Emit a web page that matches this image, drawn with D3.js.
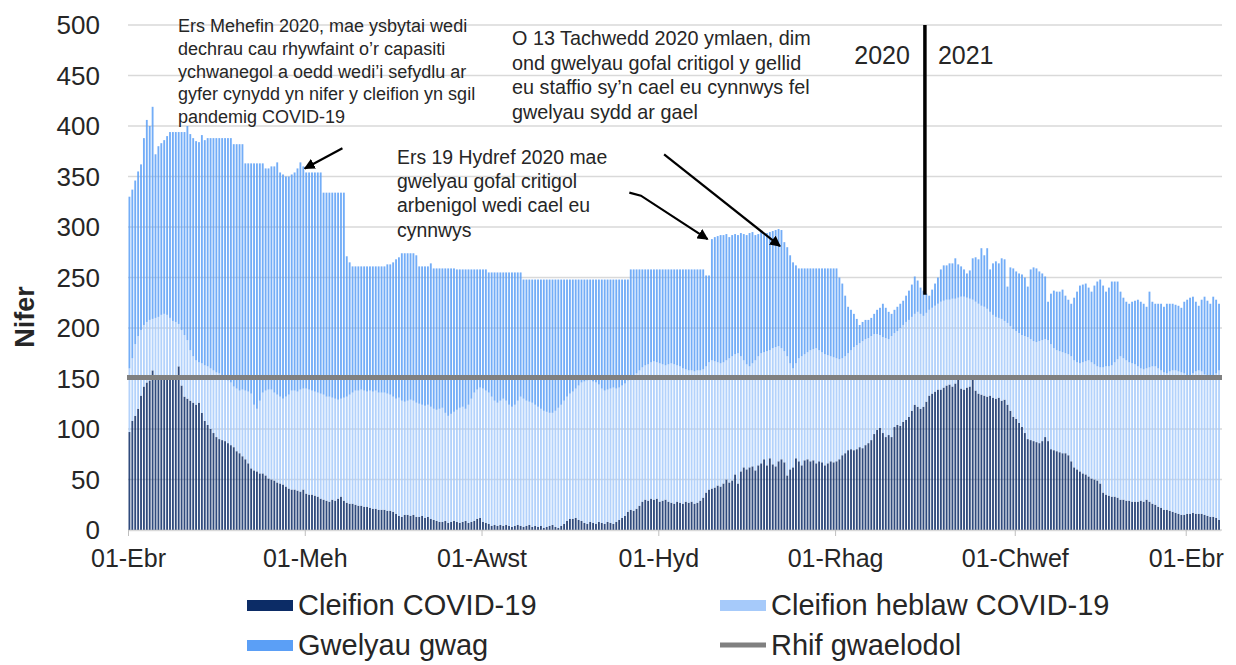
<!DOCTYPE html>
<html>
<head>
<meta charset="utf-8">
<script src="https://cdn.jsdelivr.net/npm/d3@7"></script>
<style>
  body { margin: 0; background: #fff; }
  text { font-family: "Liberation Sans", Arial, sans-serif; fill: #262626; }
</style>
</head>
<body>
<svg width="1236" height="665"></svg>
<script>
// Daily beds, 01 Apr 2020 - 12 Apr 2021.
const startDate = Date.UTC(2020, 3, 1);
const endDate = Date.UTC(2021, 3, 13);
const days = d3.utcDay.range(startDate, endDate);

// Cleifion COVID-19
const covid = [
  97,108,113,120,133,142,146,148,158,150, 150,150,151,150,150,150,152,162,143,132,
  130,128,126,124,126,116,108,104,100,96, 92,90,89,88,86,84,82,78,76,73,
  70,66,61,59,58,56,56,54,51,50, 49,47,46,45,43,41,40,40,39,38,
  40,36,35,35,34,33,31,30,29,28, 30,29,31,33,29,27,26,26,25,24,
  24,23,23,22,21,21,20,20,20,19, 19,18,16,14,13,15,15,14,15,13,
  13,14,12,13,11,10,9,8,8,9, 7,8,9,8,7,8,9,7,8,9,
  11,12,8,7,6,4,5,4,5,4, 5,4,3,4,5,4,3,4,5,3,
  4,3,4,2,3,4,5,3,2,4, 6,9,11,11,12,10,9,7,6,8,
  7,6,8,7,6,8,7,6,8,10, 12,14,18,20,19,21,24,28,30,29,
  31,30,31,28,29,30,28,27,26,28, 27,26,28,27,28,26,27,29,32,37,
  40,41,42,44,43,46,50,47,49,55, 46,58,62,60,62,63,59,64,66,70,
  64,71,65,63,68,70,67,54,60,62, 71,68,64,69,70,68,69,66,68,67,
  64,66,68,67,68,70,74,76,79,80, 79,80,82,81,84,86,89,95,99,101,
  96,92,94,92,102,104,103,107,109,112, 118,124,122,120,122,127,133,135,137,139,
  139,141,143,144,142,145,149,140,139,141, 142,149,138,135,134,133,132,133,131,130,
  131,128,129,124,118,112,110,106,102,96, 90,89,88,87,86,88,92,88,80,79,
  78,77,76,76,74,68,62,60,58,56, 55,53,51,50,49,46,37,35,34,33,
  33,32,30,30,29,29,28,28,28,29, 28,30,28,26,25,23,22,20,20,19,
  18,17,16,15,15,16,16,17,16,16, 16,15,14,13,13,12,10
];

// Cleifion heblaw COVID-19
const nonCovid = [
  63,62,71,72,65,61,60,60,51,60, 61,63,63,63,60,57,54,42,55,61,
  58,50,46,44,40,49,55,58,60,62, 64,65,63,62,62,62,60,62,62,66,
  68,71,74,65,62,72,80,84,88,89, 87,87,86,85,89,93,98,98,98,101,
  100,104,104,103,103,103,104,104,103,104, 101,101,98,97,102,105,108,110,113,114,
  115,115,114,116,116,117,116,116,116,116, 115,114,114,117,115,112,113,115,113,113,
  112,110,111,111,111,110,110,112,113,107, 106,107,108,111,114,114,111,117,122,127,
  128,129,132,131,130,128,123,122,123,126, 123,120,119,120,123,128,127,124,122,123,
  120,119,116,116,114,112,111,115,119,120, 122,123,124,126,128,133,137,140,142,141,
  140,140,136,133,132,131,133,135,132,131, 131,131,130,130,133,134,134,133,133,135,
  135,137,135,137,135,133,136,138,138,135, 135,134,131,131,130,131,131,129,127,125,
  126,127,125,122,122,120,118,123,123,119, 129,114,106,104,100,102,109,108,109,106,
  113,107,115,118,114,110,110,118,105,98, 94,102,108,105,106,110,110,114,110,109,
  110,107,104,104,102,99,96,96,96,98, 102,103,103,106,105,104,103,99,95,92,
  95,98,95,100,93,93,97,96,97,96, 93,90,94,94,90,88,85,85,85,85,
  87,86,85,84,87,84,81,91,92,89, 87,79,88,89,88,88,87,83,82,81,
  79,81,78,81,84,87,87,89,91,96, 101,100,99,99,101,100,97,100,104,101,
  100,100,100,99,100,104,106,106,107,110, 112,115,115,114,113,115,124,127,128,130,
  133,137,142,140,139,137,137,136,134,131, 131,130,133,136,137,137,136,136,135,138,
  140,141,141,141,140,137,136,138,141,142, 141,139,137,136,138,143,148
];

// Gwelyau gwag
const empty = [
  170,167,162,163,164,185,200,192,210,162, 169,170,172,177,184,187,188,190,196,201,
  212,214,216,217,218,226,223,226,228,230, 232,233,236,238,240,242,240,242,244,243,
  225,226,228,239,243,235,227,220,219,221, 224,230,222,222,218,216,214,216,221,225,
  220,214,215,216,217,218,219,200,202,202, 203,204,205,204,203,139,131,125,123,123,
  122,123,124,123,124,123,125,125,125,128, 129,133,138,139,146,147,146,145,146,146,
  136,137,138,137,142,139,140,139,138,143, 146,144,142,139,137,136,138,134,128,122,
  119,117,118,120,119,123,127,129,127,125, 127,131,133,131,127,123,118,120,121,122,
  124,126,128,130,131,132,132,130,127,124, 120,116,113,111,108,105,102,101,100,99,
  101,102,104,108,110,109,108,107,108,107, 105,103,100,108,106,103,100,97,95,94,
  92,91,92,93,94,95,94,93,94,95, 96,98,99,100,100,101,100,100,99,90,
  86,120,123,125,127,126,125,120,120,119, 117,122,125,128,132,130,124,121,120,117,
  117,117,116,116,116,117,108,108,107,105, 97,89,87,85,83,81,80,79,81,83,
  85,86,87,88,89,81,74,60,46,40, 33,26,18,19,19,18,18,20,24,27,
  33,30,27,22,23,24,24,24,26,29, 32,37,31,26,25,19,14,18,22,26,
  32,35,34,36,35,40,33,30,27,24, 28,41,44,44,57,51,60,42,51,55,
  54,60,61,36,58,60,59,59,60,58, 50,69,73,73,69,66,62,38,50,57,
  58,59,62,57,54,52,62,70,77,77, 77,72,70,78,84,87,81,74,78,83,
  80,77,64,60,58,58,61,63,66,66, 65,61,75,64,62,64,66,65,69,67,
  66,65,65,64,71,75,78,76,69,64, 71,77,76,75,80,73,66
];

// Rhif gwaelodol
const baseline = 151;

// X axis ticks.
const tickDates = ["2020-04-01", "2020-06-01", "2020-08-01", "2020-10-01", "2020-12-01", "2021-02-01", "2021-04-01"];
const tickLabels = ["01-Ebr", "01-Meh", "01-Awst", "01-Hyd", "01-Rhag", "01-Chwef", "01-Ebr"];
const yTicks = d3.range(0, 501, 50);

const keys = ["covid", "nonCovid", "empty"];
const names = {
  covid: "Cleifion COVID-19",
  nonCovid: "Cleifion heblaw COVID-19",
  empty: "Gwelyau gwag",
};
const colors = { covid: "#0c2c66", nonCovid: "#a6cafa", empty: "#5b9ff6" };

// Notes on the chart, and arrows as (date, value) points.
const notes = [
  { x: 178, y: 26, size: 18, lines: ["Ers Mehefin 2020, mae ysbytai wedi", "dechrau cau rhywfaint o’r capasiti", "ychwanegol a oedd wedi’i sefydlu ar", "gyfer cynydd yn nifer y cleifion yn sgil", "pandemig COVID-19"] },
  { x: 512, y: 38, size: 19.8, lines: ["O 13 Tachwedd 2020 ymlaen, dim", "ond gwelyau gofal critigol y gellid", "eu staffio sy’n cael eu cynnwys fel", "gwelyau sydd ar gael"] },
  { x: 397, y: 157, size: 19.4, lines: ["Ers 19 Hydref 2020 mae", "gwelyau gofal critigol", "arbenigol wedi cael eu", "cynnwys"] },
];
const arrows = [
  [["2020-06-14", 378], ["2020-06-01", 358]],
  [["2020-09-21", 334], ["2020-09-25", 331], ["2020-10-18", 288]],
  [["2020-10-03", 372], ["2020-11-12", 281]],
];
const yearSplit = "2021-01-01";

const svg = d3.select("svg");
const x = d3.scaleUtc().domain([startDate, endDate]).range([128, 1220.5]);
const y = d3.scaleLinear().domain([0, 500]).range([530, 25]);
const step = x(days[1]) - x(days[0]);

// Grid.
svg.append("g")
  .selectAll("line")
  .data(yTicks)
  .join("line")
  .attr("x1", 128)
  .attr("x2", 1222)
  .attr("y1", (d) => y(d))
  .attr("y2", (d) => y(d))
  .attr("stroke", "#d9d9d9")
  .attr("stroke-width", 1.3);

// Stacked bars, thin with white gaps like the original.
const table = days.map((d, i) => ({ date: d, covid: covid[i], nonCovid: nonCovid[i], empty: empty[i] }));
const series = d3.stack().keys(keys)(table);

svg.append("g")
  .selectAll("g")
  .data(series)
  .join("g")
  .attr("fill", (s) => colors[s.key])
  .attr("fill-opacity", 0.85)
  .selectAll("rect")
  .data((s) => s)
  .join("rect")
  .attr("x", (d) => x(d.data.date) + 0.5)
  .attr("width", step * 0.64)
  .attr("y", (d) => y(d[1]))
  .attr("height", (d) => y(d[0]) - y(d[1]));

// Baseline.
svg.append("line")
  .attr("x1", 127)
  .attr("x2", 1222)
  .attr("y1", y(baseline))
  .attr("y2", y(baseline))
  .attr("stroke", "#808080")
  .attr("stroke-width", 5);

// Y labels.
svg.append("g")
  .selectAll("text")
  .data(yTicks)
  .join("text")
  .attr("x", 100)
  .attr("y", (d) => y(d))
  .attr("dy", "0.36em")
  .attr("text-anchor", "end")
  .attr("font-size", 26)
  .text((d) => d);

svg.append("text")
  .attr("transform", "translate(34,317) rotate(-90)")
  .attr("text-anchor", "middle")
  .attr("font-size", 27)
  .attr("font-weight", "bold")
  .text("Nifer");

// X axis.
const xAxis = svg.append("g")
  .attr("transform", "translate(0,530)")
  .call(
    d3.axisBottom(x)
      .tickValues(tickDates.map((d) => new Date(d)))
      .tickFormat((d, i) => tickLabels[i])
      .tickSize(6)
      .tickSizeOuter(0)
  );
xAxis.select(".domain").attr("stroke", "#d9d9d9").attr("stroke-width", 1.3);
xAxis.selectAll(".tick line").attr("stroke", "#bfbfbf");
xAxis.selectAll(".tick text")
  .attr("y", 14)
  .attr("dy", "0.9em")
  .attr("font-size", 25)
  .attr("font-family", '"Liberation Sans", Arial, sans-serif')
  .attr("fill", "#262626");

// Year divider.
const splitX = x(new Date(yearSplit));
const splitIndex = days.findIndex((d) => +d === +new Date(yearSplit));
svg.append("line")
  .attr("x1", splitX)
  .attr("x2", splitX)
  .attr("y1", y(500))
  .attr("y2", y(series[2][splitIndex][1]) + 1)
  .attr("stroke", "#000")
  .attr("stroke-width", 3.5);
svg.append("text").attr("x", splitX - 15).attr("y", 64).attr("text-anchor", "end").attr("font-size", 25).text("2020");
svg.append("text").attr("x", splitX + 13).attr("y", 64).attr("font-size", 25).text("2021");

// Notes.
svg.append("g")
  .selectAll("text")
  .data(notes)
  .join("text")
  .attr("font-size", (n) => n.size)
  .attr("fill", "#333")
  .each(function (n) {
    d3.select(this)
      .selectAll("tspan")
      .data(n.lines)
      .join("tspan")
      .attr("x", n.x)
      .attr("y", (l, i) => n.y + i * (n.size * 1.2 + 1))
      .attr("dy", "0.35em")
      .text((l) => l);
  });

svg.append("defs")
  .append("marker")
  .attr("id", "head")
  .attr("viewBox", "0 0 10 10")
  .attr("refX", 9)
  .attr("refY", 5)
  .attr("markerWidth", 5)
  .attr("markerHeight", 5)
  .attr("orient", "auto")
  .append("path")
  .attr("d", "M0,0L10,5L0,10z")
  .attr("fill", "#000");

const arrowLine = d3.line()
  .x((p) => x(new Date(p[0])))
  .y((p) => y(p[1]));
svg.append("g")
  .selectAll("path")
  .data(arrows)
  .join("path")
  .attr("d", arrowLine)
  .attr("fill", "none")
  .attr("stroke", "#000")
  .attr("stroke-width", 2.2)
  .attr("marker-end", "url(#head)");

// Legend (second row kept inside the frame).
const legend = [
  { key: "covid", x: 247, y: 605 },
  { key: "nonCovid", x: 720, y: 605 },
  { key: "empty", x: 247, y: 645 },
];
const lg = svg.append("g");
lg.selectAll("rect")
  .data(legend)
  .join("rect")
  .attr("x", (d) => d.x)
  .attr("y", (d) => d.y - 5)
  .attr("width", 46)
  .attr("height", 11)
  .attr("fill", (d) => colors[d.key]);
lg.selectAll("text")
  .data(legend)
  .join("text")
  .attr("x", (d) => d.x + 51)
  .attr("y", (d) => d.y)
  .attr("dy", "0.36em")
  .attr("font-size", 29)
  .text((d) => names[d.key]);
lg.append("line")
  .attr("x1", 720)
  .attr("x2", 766)
  .attr("y1", 645)
  .attr("y2", 645)
  .attr("stroke", "#808080")
  .attr("stroke-width", 5);
lg.append("text")
  .attr("x", 771)
  .attr("y", 645)
  .attr("dy", "0.36em")
  .attr("font-size", 29)
  .text("Rhif gwaelodol");
</script>
</body>
</html>
